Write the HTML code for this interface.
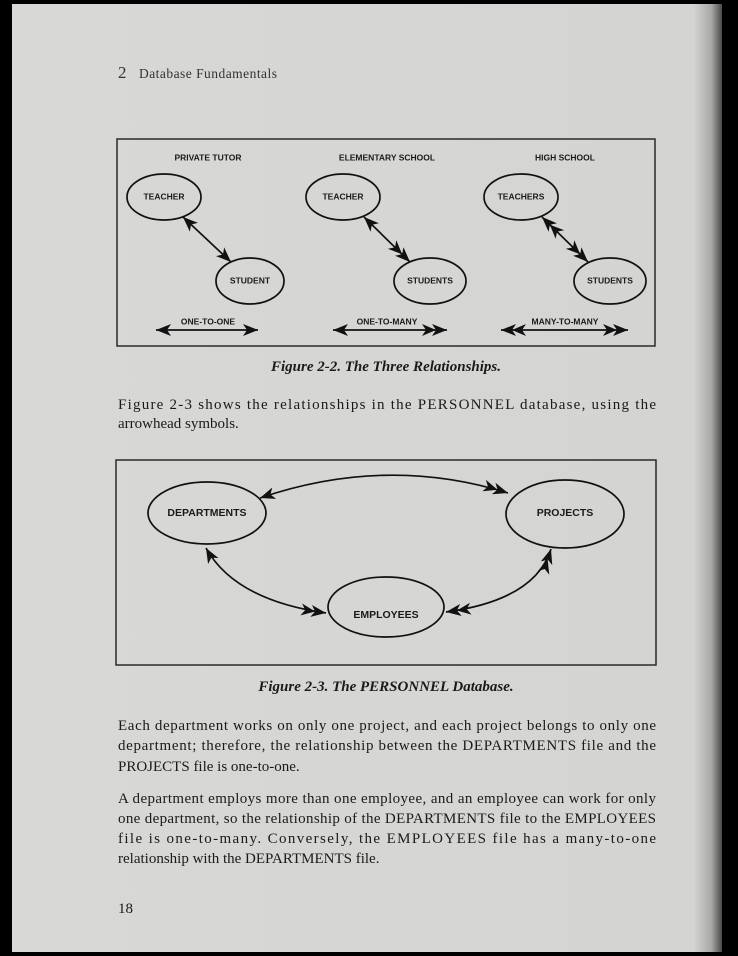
<!DOCTYPE html>
<html><head><meta charset="utf-8"><style>
html,body{margin:0;padding:0;background:#000;width:738px;height:956px;overflow:hidden}
svg{display:block}
.s{font-family:"Liberation Sans",sans-serif;font-weight:bold;font-size:8.5px;fill:#1a1a1a;text-anchor:middle;dominant-baseline:middle}
.t{font-family:"Liberation Serif",serif;font-size:15px;fill:#1a1a1a}
.c{font-family:"Liberation Serif",serif;font-size:15px;font-weight:bold;font-style:italic;fill:#1a1a1a;text-anchor:middle}
</style></head><body>
<svg width="738" height="956" viewBox="0 0 738 956" xmlns="http://www.w3.org/2000/svg">
<defs>
<linearGradient id="g" x1="0" x2="1" y1="0" y2="0">
<stop offset="0" stop-color="#d8d8d6"/><stop offset="0.96" stop-color="#d4d4d2"/><stop offset="0.985" stop-color="#a8a8a6"/><stop offset="1" stop-color="#4a4a4a"/>
</linearGradient>
<marker id="a1" markerWidth="16" markerHeight="12" refX="15" refY="6" orient="auto-start-reverse" markerUnits="userSpaceOnUse"><path d="M0,0 L15,6 L0,12 L4,6 Z" fill="#111"/></marker>
<marker id="a2" markerWidth="26" markerHeight="12" refX="25" refY="6" orient="auto-start-reverse" markerUnits="userSpaceOnUse"><path d="M0,0 L14,6 L0,12 L4,6 Z M10,0 L25,6 L10,12 L14,6 Z" fill="#111"/></marker>
</defs>
<rect x="12" y="4" width="710" height="948" fill="url(#g)"/>
<text x="118" y="78" font-family="Liberation Serif,serif" font-size="17" fill="#333">2</text>
<text x="139" y="78" font-family="Liberation Serif,serif" font-size="13.5" fill="#333" textLength="138">Database Fundamentals</text>

<!-- Figure 2-2 -->
<rect x="117" y="139" width="538" height="207" fill="none" stroke="#2a2a2a" stroke-width="1.5"/>
<g class="s">
<text x="208" y="158">PRIVATE TUTOR</text><text x="387" y="158">ELEMENTARY SCHOOL</text><text x="565" y="158">HIGH SCHOOL</text>
</g>
<g fill="none" stroke="#111" stroke-width="1.7">
<ellipse cx="164" cy="197" rx="37" ry="23"/><ellipse cx="250" cy="281" rx="34" ry="23"/>
<ellipse cx="343" cy="197" rx="37" ry="23"/><ellipse cx="430" cy="281" rx="36" ry="23"/>
<ellipse cx="521" cy="197" rx="37" ry="23"/><ellipse cx="610" cy="281" rx="36" ry="23"/>
<line x1="183" y1="217" x2="231" y2="262" marker-start="url(#a1)" marker-end="url(#a1)"/>
<line x1="364" y1="217" x2="410" y2="262" marker-start="url(#a1)" marker-end="url(#a2)"/>
<line x1="542" y1="217" x2="588" y2="262" marker-start="url(#a2)" marker-end="url(#a2)"/>
<line x1="156" y1="330" x2="258" y2="330" marker-start="url(#a1)" marker-end="url(#a1)"/>
<line x1="333" y1="330" x2="447" y2="330" marker-start="url(#a1)" marker-end="url(#a2)"/>
<line x1="501" y1="330" x2="628" y2="330" marker-start="url(#a2)" marker-end="url(#a2)"/>
</g>
<g class="s">
<text x="164" y="197">TEACHER</text><text x="250" y="281">STUDENT</text>
<text x="343" y="197">TEACHER</text><text x="430" y="281">STUDENTS</text>
<text x="521" y="197">TEACHERS</text><text x="610" y="281">STUDENTS</text>
<text x="208" y="322">ONE-TO-ONE</text><text x="387" y="322">ONE-TO-MANY</text><text x="565" y="322">MANY-TO-MANY</text>
</g>
<text class="c" x="386" y="371">Figure 2-2.  The Three Relationships.</text>
<text class="t" x="118" y="409" textLength="538" lengthAdjust="spacing">Figure 2-3 shows the relationships in the PERSONNEL database, using the</text>
<text class="t" x="118" y="428">arrowhead symbols.</text>

<!-- Figure 2-3 -->
<rect x="116" y="460" width="540" height="205" fill="none" stroke="#2a2a2a" stroke-width="1.5"/>
<g fill="none" stroke="#111" stroke-width="1.7">
<ellipse cx="207" cy="513" rx="59" ry="31"/>
<ellipse cx="565" cy="514" rx="59" ry="34"/>
<ellipse cx="386" cy="607" rx="58" ry="30"/>
<path d="M260,498 Q386,455 508,493" marker-start="url(#a1)" marker-end="url(#a2)"/>
<path d="M206,548 Q235,600 326,613" marker-start="url(#a1)" marker-end="url(#a2)"/>
<path d="M446,612 Q535,600 551,549" marker-start="url(#a2)" marker-end="url(#a2)"/>
</g>
<g class="s" style="font-size:10.5px">
<text x="207" y="513">DEPARTMENTS</text><text x="565" y="513">PROJECTS</text><text x="386" y="615">EMPLOYEES</text>
</g>
<text class="c" x="386" y="691">Figure 2-3.  The PERSONNEL Database.</text>
<g class="t">
<text x="118" y="730" textLength="538" lengthAdjust="spacing">Each department works on only one project, and each project belongs to only one</text>
<text x="118" y="750" textLength="538" lengthAdjust="spacing">department; therefore, the relationship between the DEPARTMENTS file and the</text>
<text x="118" y="771">PROJECTS file is one-to-one.</text>
<text x="118" y="803" textLength="538" lengthAdjust="spacing">A department employs more than one employee, and an employee can work for only</text>
<text x="118" y="823" textLength="538" lengthAdjust="spacing">one department, so the relationship of the DEPARTMENTS file to the EMPLOYEES</text>
<text x="118" y="843" textLength="538" lengthAdjust="spacing">file is one-to-many. Conversely, the EMPLOYEES file has a many-to-one</text>
<text x="118" y="863">relationship with the DEPARTMENTS file.</text>
<text x="118" y="913">18</text>
</g>
</svg>
</body></html>
